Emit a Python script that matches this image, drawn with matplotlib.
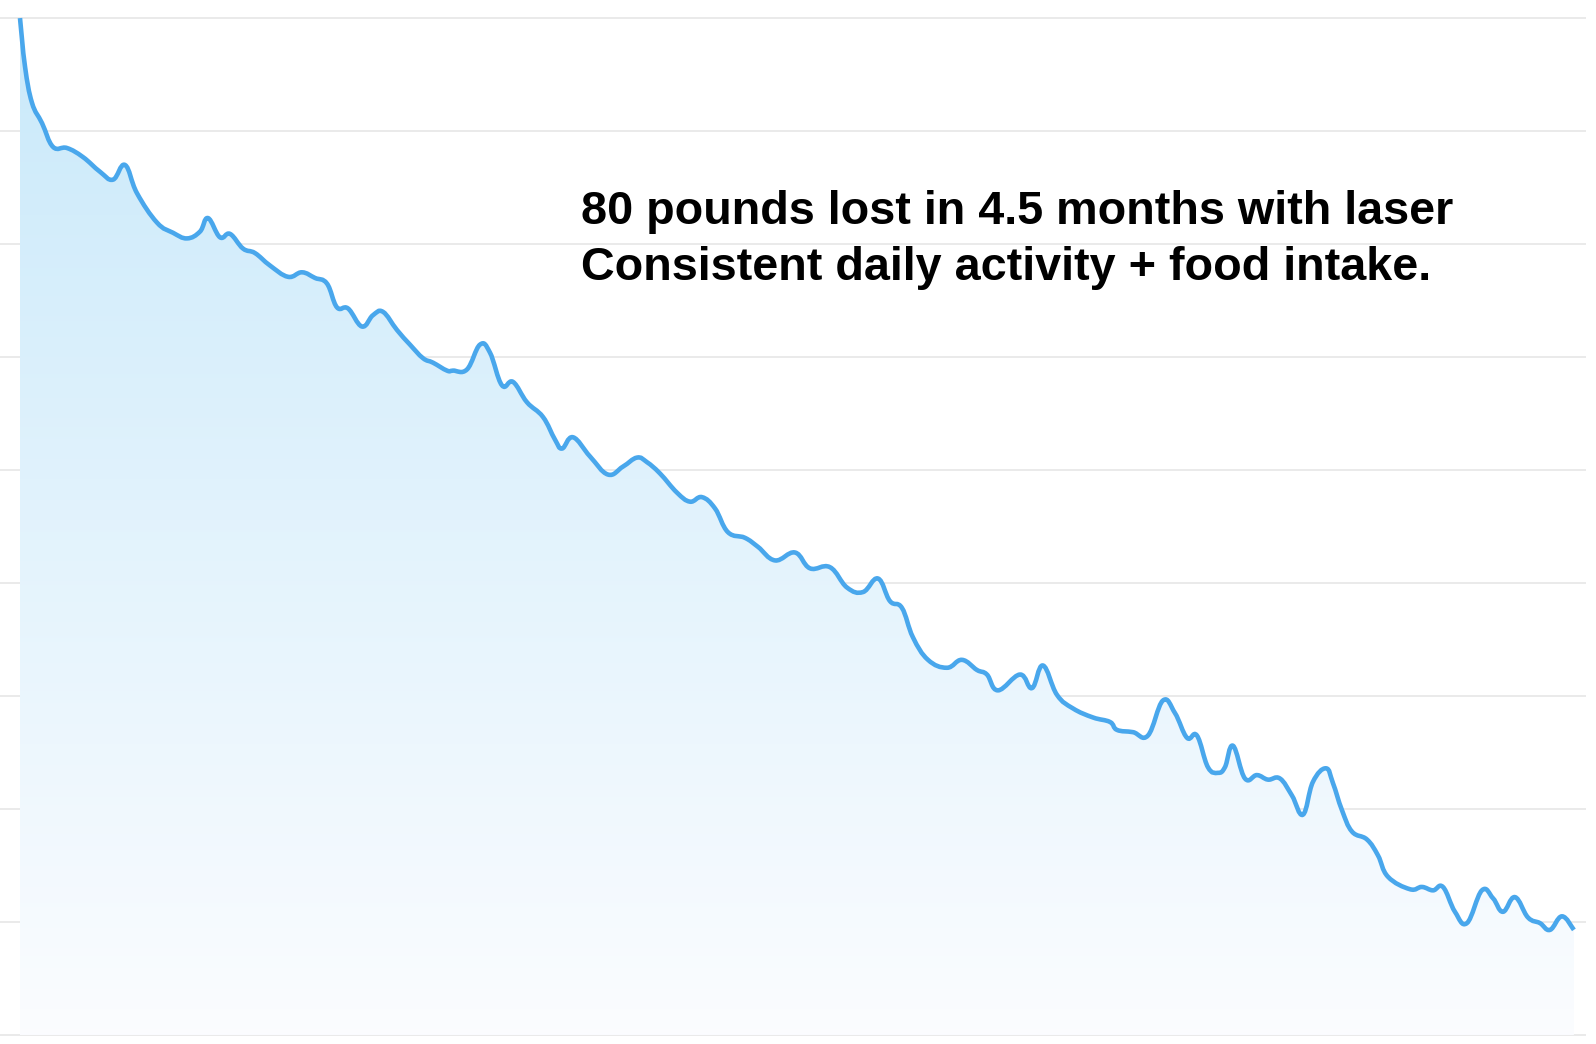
import matplotlib.pyplot as plt
import numpy as np
from matplotlib.path import Path
from matplotlib.patches import PathPatch

# day index and weight (lb)
days = [0, 0.44, 1.05, 1.93, 2.89, 4.11, 5.51, 7.00, 8.14, 9.19, 10.24, 11.99, 13.39, 14.62,
        15.75, 16.45, 17.50, 18.38, 19.52, 20.57, 21.88, 23.46, 24.68, 25.82, 26.87, 27.74,
        28.71, 29.93, 30.89, 31.77, 32.99, 34.13, 35.27, 36.15, 37.37, 37.90, 39.12, 40.26,
        41.13, 42.18, 43.15, 44.37, 45.77, 46.82, 47.44, 48.40, 49.89, 51.46, 52.77, 54.00,
        54.87, 56.01, 57.50, 58.64, 59.69, 60.83, 61.96, 63.45, 64.59, 66.08, 67.83, 69.14,
        70.89, 72.38, 73.78, 75.09, 76.14, 77.19, 78.15, 79.47, 81.13, 82.44, 83.76, 84.63,
        85.59, 87.52, 88.57, 89.53, 90.76, 92.16, 93.91, 95.40, 96.01, 97.41, 98.72, 100.03,
        101.08, 102.14, 103.01, 103.97, 104.85, 105.46, 106.16, 107.21, 108.26, 109.22,
        110.27, 111.32, 112.29, 113.16, 114.30, 114.91, 115.70, 116.58, 117.89, 118.85,
        119.73, 121.65, 122.70, 123.67, 124.54, 125.59, 126.64, 127.95, 128.92, 129.79,
        130.84, 131.98, 133.03, 133.91, 134.96, 136.0]
weight = [300.0, 295.7, 292.5, 290.7, 288.6, 288.5, 287.7, 286.4, 285.7, 287.0, 284.5, 281.9,
          281.0, 280.5, 281.1, 282.3, 280.6, 280.9, 279.6, 279.2, 278.1, 277.1, 277.5, 277.0,
          276.5, 274.4, 274.3, 272.7, 273.7, 274.0, 272.4, 271.1, 269.9, 269.5, 268.8, 268.8,
          268.9, 271.1, 270.4, 267.5, 267.8, 266.0, 264.7, 262.7, 261.9, 262.9, 261.2, 259.6,
          260.3, 261.1, 260.7, 259.7, 258.0, 257.2, 257.6, 256.6, 254.5, 254.0, 253.2, 252.0,
          252.7, 251.3, 251.4, 249.6, 249.2, 250.4, 248.4, 247.8, 245.2, 243.2, 242.5, 243.2,
          242.3, 241.9, 240.5, 241.9, 240.7, 242.7, 240.1, 238.9, 238.1, 237.7, 237.0, 236.8,
          236.5, 239.6, 238.5, 236.3, 236.5, 233.7, 233.2, 233.7, 235.6, 232.7, 233.0, 232.6,
          232.7, 231.2, 229.5, 232.4, 233.6, 232.3, 229.9, 228.0, 227.3, 225.9, 224.0, 222.9,
          223.1, 222.8, 223.1, 220.9, 219.9, 222.8, 222.1, 220.9, 222.2, 220.4, 219.9, 219.3,
          220.5, 219.3]
grid_levels = [210, 220, 230, 240, 250, 260, 270, 280, 290, 300]
title_lines = ["80 pounds lost in 4.5 months with laser",
               "Consistent daily activity + food intake."]

line_color = '#49a7ec'


def smooth_path(xs, ys, tension=0.4):
    # catmull-rom style bezier through the points (drawing only)
    xs = np.asarray(xs, float)
    ys = np.asarray(ys, float)
    verts = [(xs[0], ys[0])]
    codes = [Path.MOVETO]
    n = len(xs)
    for i in range(n - 1):
        x0, y0 = (xs[i - 1], ys[i - 1]) if i > 0 else (xs[i], ys[i])
        x1, y1 = xs[i], ys[i]
        x2, y2 = xs[i + 1], ys[i + 1]
        x3, y3 = (xs[i + 2], ys[i + 2]) if i + 2 < n else (x2, y2)
        c1 = (x1 + (x2 - x0) * tension / 2, y1 + (y2 - y0) * tension / 2)
        c2 = (x2 - (x3 - x1) * tension / 2, y2 - (y3 - y1) * tension / 2)
        verts += [c1, c2, (x2, y2)]
        codes += [Path.CURVE4] * 3
    return verts, codes


fig = plt.figure(figsize=(15.96, 10.44), dpi=100)
ax = fig.add_axes([0, 0, 1586 / 1596, 1])
ax.set_xlim(-1.75, 137.06)
ax.set_ylim(209.2, 301.6)
ax.axis('off')

for g in grid_levels:
    ax.axhline(g, color='#e8e8e8', lw=1.3, zorder=1)

verts, codes = smooth_path(days, weight)

# gradient fill under the line
fill_verts = verts + [(days[-1], grid_levels[0]), (days[0], grid_levels[0]), verts[0]]
fill_codes = codes + [Path.LINETO, Path.LINETO, Path.CLOSEPOLY]
fill_patch = PathPatch(Path(fill_verts, fill_codes), facecolor='none', edgecolor='none')
ax.add_patch(fill_patch)

top = np.array([0.79, 0.915, 0.98])
bottom = np.array([0.985, 0.99, 1.0])
t = np.linspace(0, 1, 256)[:, None]
grad = (top * (1 - t) + bottom * t)[:, None, :]
im = ax.imshow(grad, extent=[days[0], days[-1], grid_levels[0], 300], aspect='auto',
               origin='upper', zorder=2, interpolation='bilinear')
im.set_clip_path(fill_patch)
ax.set_xlim(-1.75, 137.06)
ax.set_ylim(209.2, 301.6)

line = PathPatch(Path(verts, codes), facecolor='none', edgecolor=line_color, lw=3.3,
                 capstyle='butt', joinstyle='round', zorder=3)
ax.add_patch(line)

fig.text(581 / 1596, 1 - 224 / 1044, title_lines[0], fontsize=33.7, fontweight='bold',
         family=['Liberation Sans', 'DejaVu Sans'], va='baseline')
fig.text(581 / 1596, 1 - 280 / 1044, title_lines[1], fontsize=33.7, fontweight='bold',
         family=['Liberation Sans', 'DejaVu Sans'], va='baseline')

fig.savefig('out.png', dpi=100, facecolor='white')
